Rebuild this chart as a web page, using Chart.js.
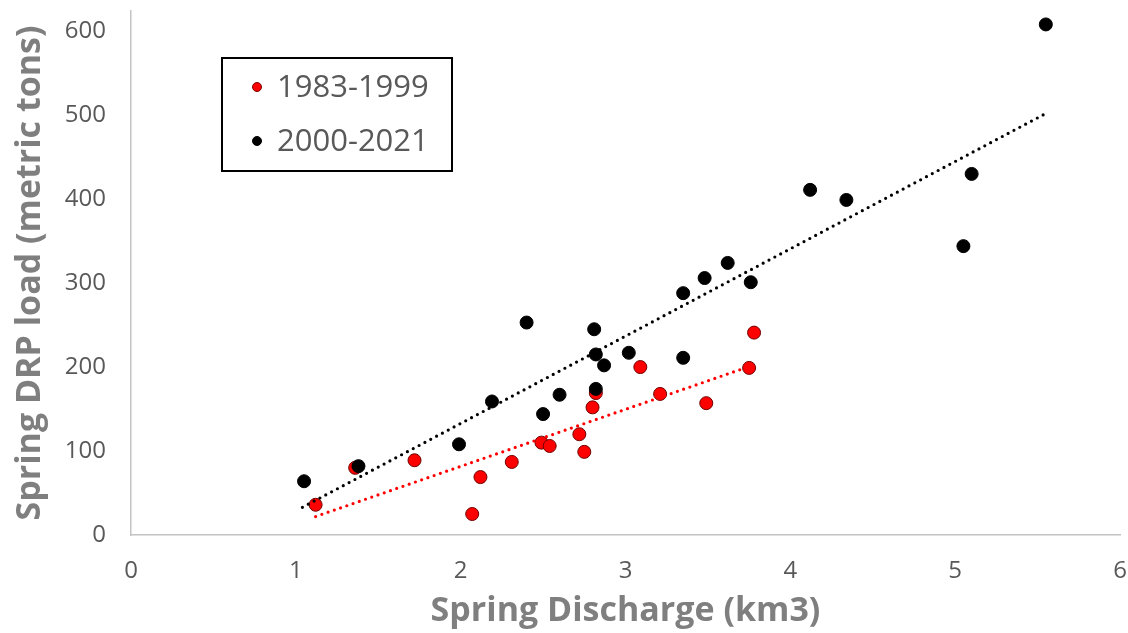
<!DOCTYPE html>
<html>
<head>
<meta charset="utf-8">
<script src="https://cdn.jsdelivr.net/npm/chart.js@4"></script>
<style>
  html, body { margin: 0; padding: 0; background: #fff; }
  canvas { display: block; }
</style>
</head>
<body>
<canvas id="drpChart" width="1128" height="633"></canvas>
<script>
// 1983-1999 (red)
const earlyX = [1.12, 1.36, 1.72, 2.07, 2.12, 2.31, 2.49, 2.54, 2.72, 2.75, 2.80, 2.82, 3.09, 3.21, 3.49, 3.75, 3.78];
const earlyY = [36, 80, 89, 25, 69, 87, 110, 106, 120, 99, 152, 169, 200, 168, 157, 199, 241];

// 2000-2021 (black)
const lateX = [1.05, 1.38, 1.99, 2.19, 2.40, 2.50, 2.60, 2.81, 2.82, 2.87, 2.82, 3.02, 3.35, 3.35, 3.48, 3.62, 3.76, 4.12, 4.34, 5.05, 5.10, 5.55];
const lateY = [64, 82, 108, 159, 253, 144, 167, 245, 215, 202, 174, 217, 211, 288, 306, 324, 301, 411, 399, 344, 430, 608];

// trendline end points
const earlyTrendX = [1.12, 3.80];
const earlyTrendY = [22, 204];
const lateTrendX = [1.04, 5.55];
const lateTrendY = [33, 502];

const seriesLabels = ['1983-1999', '2000-2021'];
const xTicks = [0, 1, 2, 3, 4, 5, 6];
const yTicks = [0, 100, 200, 300, 400, 500, 600];

const toPoints = (xs, ys) => xs.map((x, i) => ({ x: x, y: ys[i] }));

const tickFont = { family: 'Open Sans', size: 24 };
const titleFont = { family: 'Open Sans', size: 34, weight: 'bold' };

// legend box drawn inside the plot
const boxLegend = {
    id: 'boxLegend',
    afterDraw(chart) {
        const ctx = chart.ctx;
        ctx.save();
        ctx.strokeStyle = '#000';
        ctx.lineWidth = 2;
        ctx.strokeRect(222, 58, 230, 113);
        const rows = [
            { label: seriesLabels[0], fill: '#ff0000', edge: '#7a0000', y: 87 },
            { label: seriesLabels[1], fill: '#000000', edge: '#000000', y: 141 }
        ];
        ctx.font = '31px "Open Sans"';
        ctx.textBaseline = 'middle';
        rows.forEach(r => {
            ctx.beginPath();
            ctx.arc(257, r.y, 4.5, 0, Math.PI * 2);
            ctx.fillStyle = r.fill;
            ctx.fill();
            ctx.lineWidth = 1;
            ctx.strokeStyle = r.edge;
            ctx.stroke();
            ctx.fillStyle = '#595959';
            ctx.fillText(r.label, 277, r.y + 1);
        });
        ctx.restore();
    }
};

const ctx = document.getElementById('drpChart').getContext('2d');
const drpChart = new Chart(ctx, {
    type: 'scatter',
    data: {
        datasets: [
            {
                label: seriesLabels[0],
                data: toPoints(earlyX, earlyY),
                backgroundColor: '#ff0000',
                borderColor: '#6e0000',
                borderWidth: 1,
                pointRadius: 6.5,
                order: 3
            },
            {
                label: seriesLabels[1],
                data: toPoints(lateX, lateY),
                backgroundColor: '#000000',
                borderColor: '#000000',
                borderWidth: 1,
                pointRadius: 6.5,
                order: 2
            },
            {
                label: 'trend 1983-1999',
                data: toPoints(earlyTrendX, earlyTrendY),
                showLine: true,
                borderColor: '#ff0000',
                borderWidth: 3.2,
                borderDash: [0, 6.6],
                borderCapStyle: 'round',
                pointRadius: 0,
                order: 1
            },
            {
                label: 'trend 2000-2021',
                data: toPoints(lateTrendX, lateTrendY),
                showLine: true,
                borderColor: '#000000',
                borderWidth: 3.2,
                borderDash: [0, 6.6],
                borderCapStyle: 'round',
                pointRadius: 0,
                order: 1
            }
        ]
    },
    options: {
        responsive: false,
        animation: false,
        layout: { padding: { top: 11, right: 8, left: 0, bottom: 0 } },
        plugins: {
            legend: { display: false },
            tooltip: { enabled: false }
        },
        scales: {
            x: {
                type: 'linear',
                min: 0,
                max: 6,
                afterBuildTicks: axis => { axis.ticks = xTicks.map(v => ({ value: v })); },
                afterFit: s => { s.height = 98; s.paddingLeft = 0; s.paddingRight = 0; },
                grid: { color: 'transparent', drawTicks: false },
                border: { color: '#c4c4c4', width: 1.5 },
                ticks: { color: '#595959', font: tickFont, padding: 22, maxRotation: 0 },
                title: {
                    display: true,
                    text: 'Spring Discharge (km3)',
                    color: '#7f7f7f',
                    font: titleFont,
                    padding: { top: 0, bottom: 1 }
                }
            },
            y: {
                type: 'linear',
                min: 0,
                max: 624,
                afterBuildTicks: axis => { axis.ticks = yTicks.map(v => ({ value: v })); },
                afterFit: s => { s.width = 131; s.paddingTop = 0; s.paddingBottom = 0; },
                grid: { color: 'transparent', drawTicks: false },
                border: { color: '#c4c4c4', width: 1.5 },
                ticks: { color: '#595959', font: tickFont, padding: 25 },
                title: {
                    display: true,
                    text: 'Spring DRP load (metric tons)',
                    color: '#7f7f7f',
                    font: titleFont,
                    padding: { top: 10, bottom: 0 }
                }
            }
        }
    },
    plugins: [boxLegend]
});
</script>
</body>
</html>
